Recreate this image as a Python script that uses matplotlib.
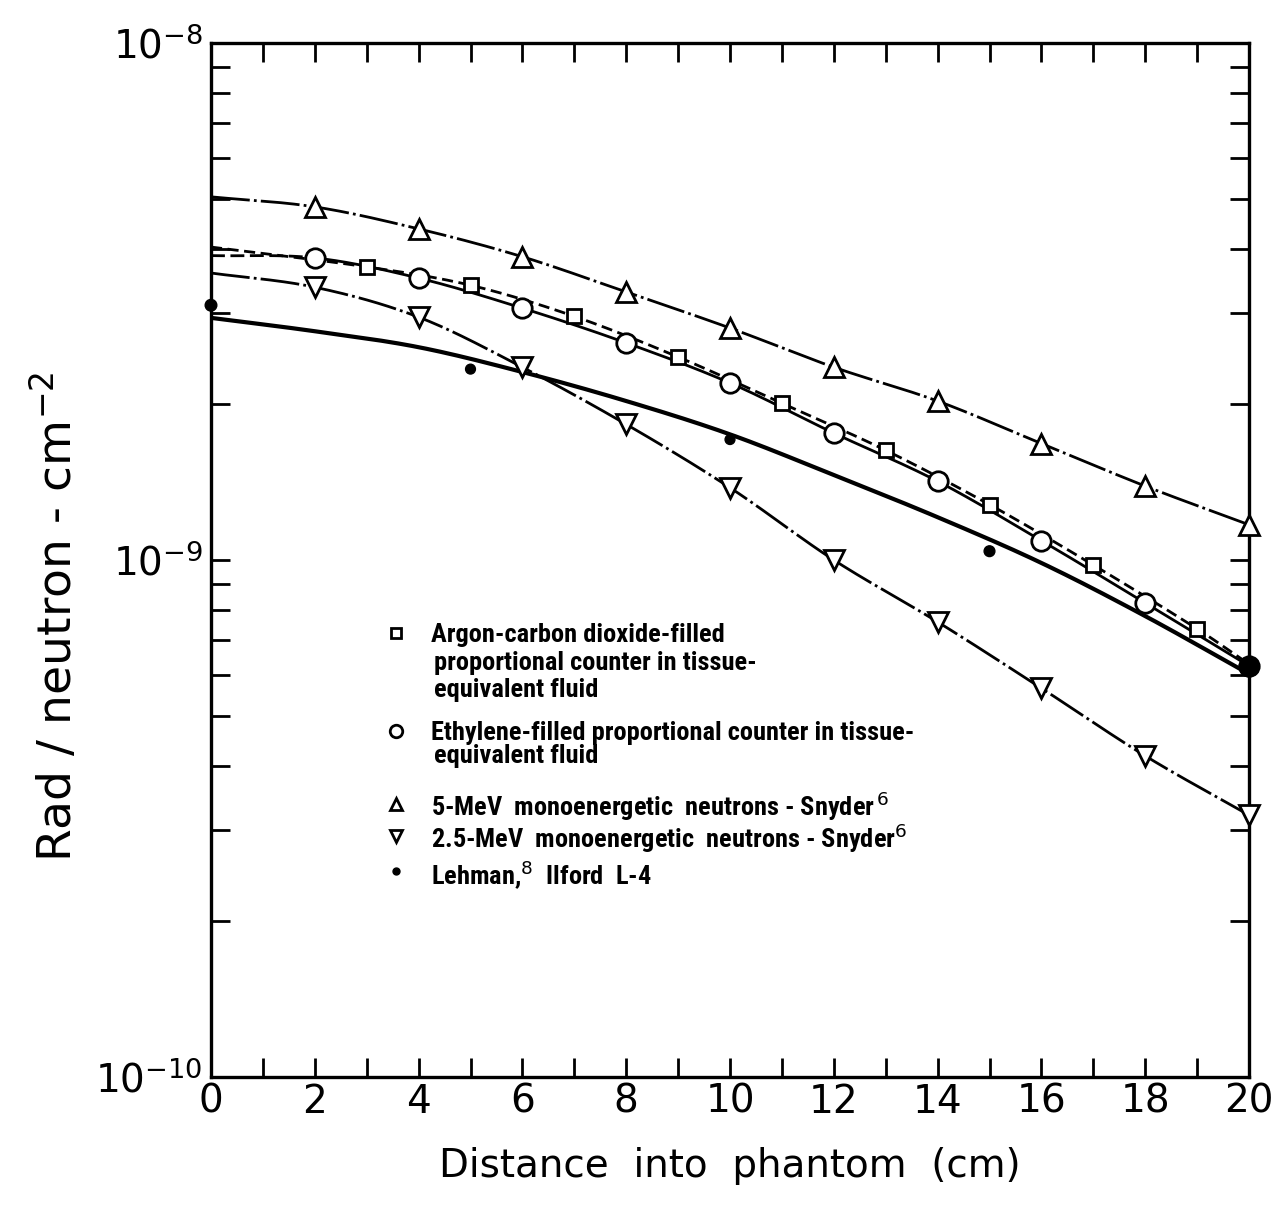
import numpy as np
import matplotlib
matplotlib.use("Agg")
import matplotlib.pyplot as plt
from matplotlib import font_manager
from matplotlib.ticker import FixedLocator, NullFormatter, MultipleLocator

# ---- data: absorbed dose per unit fluence vs. depth in phantom ----
# Argon-CO2 proportional counter (squares)
argon_x = [3, 5, 7, 9, 11, 13, 15, 17, 19]
argon_y = [3.69e-9, 3.40e-9, 2.96e-9, 2.47e-9, 2.01e-9, 1.63e-9, 1.28e-9, 9.78e-10, 7.36e-10]
argon_curve_x = [0, 3, 5, 7, 9, 11, 13, 15, 17, 19, 20]
argon_curve_y = [4.03e-9, 3.69e-9, 3.40e-9, 2.96e-9, 2.47e-9, 2.01e-9, 1.63e-9, 1.28e-9, 9.78e-10, 7.36e-10, 6.29e-10]

# Ethylene proportional counter (circles)
ethyl_x = [2, 4, 6, 8, 10, 12, 14, 16, 18, 20]
ethyl_y = [3.84e-9, 3.51e-9, 3.07e-9, 2.63e-9, 2.20e-9, 1.76e-9, 1.42e-9, 1.09e-9, 8.26e-10, 6.24e-10]
ethyl_start_y = 3.88e-9   # curve value at x = 0

# 5-MeV monoenergetic neutrons, Snyder (triangles)
mev5_x = [2, 4, 6, 8, 10, 12, 14, 16, 18, 20]
mev5_y = [4.82e-9, 4.37e-9, 3.86e-9, 3.30e-9, 2.81e-9, 2.36e-9, 2.03e-9, 1.68e-9, 1.39e-9, 1.17e-9]
mev5_start_y = 5.04e-9

# 2.5-MeV monoenergetic neutrons, Snyder (inverted triangles)
mev25_x = [2, 4, 6, 8, 10, 12, 14, 16, 18, 20]
mev25_y = [3.37e-9, 2.95e-9, 2.36e-9, 1.83e-9, 1.38e-9, 1.00e-9, 7.59e-10, 5.65e-10, 4.18e-10, 3.21e-10]
mev25_start_y = 3.59e-9

# Lehman, Ilford L-4 emulsion (dots) and its fitted curve
lehman_x = [0, 5, 10, 15, 20]
lehman_y = [3.11e-9, 2.34e-9, 1.71e-9, 1.04e-9, 6.21e-10]
lehman_curve_x = [0, 2, 4, 6, 8, 10, 12, 14, 16, 18, 20]
lehman_curve_y = [2.94e-9, 2.77e-9, 2.58e-9, 2.31e-9, 2.03e-9, 1.75e-9, 1.46e-9, 1.21e-9, 9.87e-10, 7.79e-10, 6.02e-10]

x_ticks = [0, 2, 4, 6, 8, 10, 12, 14, 16, 18, 20]
x_ticklabels = ["0", "2", "4", "6", "8", "10", "12", "14", "16", "18", "20"]
y_ticks = [1e-10, 1e-9, 1e-8]
y_ticklabels = [r"$10^{-10}$", r"$10^{-9}$", r"$10^{-8}$"]

legend_rows = [
    ("s", ["Argon-carbon dioxide-filled", "proportional counter in tissue-", "equivalent fluid"]),
    ("o", ["Ethylene-filled proportional counter in tissue-", "equivalent fluid"]),
    ("^", [r"5-MeV  monoenergetic  neutrons - Snyder$^{\,6}$"]),
    ("v", [r"2.5-MeV  monoenergetic  neutrons - Snyder$^{6}$"]),
    (".", [r"Lehman,$^{8}$  Ilford  L-4"]),
]


def pick_font(cands):
    names = {f.name for f in font_manager.fontManager.ttflist}
    for c in cands:
        if c in names:
            return c
    return "DejaVu Sans"


def smooth(xs, ys, n=300):
    """Cubic Hermite curve through the points, interpolated in log space."""
    x = np.asarray(xs, float)
    y = np.log10(np.asarray(ys, float))
    m = np.zeros_like(y)
    m[0] = (y[1] - y[0]) / (x[1] - x[0])
    m[-1] = (y[-1] - y[-2]) / (x[-1] - x[-2])
    for i in range(1, len(x) - 1):
        m[i] = (y[i + 1] - y[i - 1]) / (x[i + 1] - x[i - 1])
    xx = np.linspace(x[0], x[-1], n)
    idx = np.clip(np.searchsorted(x, xx, side="right") - 1, 0, len(x) - 2)
    h = x[idx + 1] - x[idx]
    t = (xx - x[idx]) / h
    h00 = 2 * t**3 - 3 * t**2 + 1
    h10 = t**3 - 2 * t**2 + t
    h01 = -2 * t**3 + 3 * t**2
    h11 = t**3 - t**2
    yy = h00 * y[idx] + h10 * h * m[idx] + h01 * y[idx + 1] + h11 * h * m[idx + 1]
    return xx, 10 ** yy


axis_font = pick_font(["DejaVu Sans"])
legend_font = pick_font(["Liberation Sans Narrow", "DejaVu Sans Condensed", "Roboto Condensed", "Liberation Sans"])

plt.rcParams["font.family"] = [axis_font]
plt.rcParams["mathtext.fontset"] = "dejavusans"

fig = plt.figure(figsize=(12.86, 12.26), dpi=100)
ax = fig.add_axes([211 / 1286, 1 - 1077 / 1226, 1038 / 1286, 1034 / 1226])

ax.set_yscale("log")
ax.set_xlim(0, 20)
ax.set_ylim(1e-10, 1e-8)

# fitted curves
dashdot = (0, (14, 1.5, 1, 1.5))
ax.plot(*smooth([0] + mev5_x, [mev5_start_y] + mev5_y), color="black", lw=2, linestyle=dashdot)
ax.plot(*smooth([0] + mev25_x, [mev25_start_y] + mev25_y), color="black", lw=2, linestyle=dashdot)
ex, ey = smooth([0] + ethyl_x, [ethyl_start_y] + ethyl_y, n=401)
ax.plot(ex[ex <= 2.01], ey[ex <= 2.01], color="black", lw=2, linestyle=(0, (5, 2)))
ax.plot(ex[ex >= 2], ey[ex >= 2], color="black", lw=2)
ax.plot(*smooth(argon_curve_x, argon_curve_y), color="black", lw=2, linestyle=(0, (4, 2)))
ax.plot(*smooth(lehman_curve_x, lehman_curve_y), color="black", lw=3, solid_capstyle="round")

# data points
ax.plot(mev5_x, mev5_y, "^", ms=14, mfc="white", mec="black", mew=2, clip_on=False, zorder=5)
ax.plot(mev25_x, mev25_y, "v", ms=14, mfc="white", mec="black", mew=2, clip_on=False, zorder=5)
ax.plot(ethyl_x, ethyl_y, "o", ms=14, mfc="white", mec="black", mew=2, clip_on=False, zorder=5)
ax.plot(argon_x, argon_y, "s", ms=10, mfc="white", mec="black", mew=2, clip_on=False, zorder=5)
lehman_sizes = [70, 50, 50, 60, 200]
ax.scatter(lehman_x, lehman_y, s=lehman_sizes, color="black", clip_on=False, zorder=6)

# axes styling
for sp in ax.spines.values():
    sp.set_linewidth(2.4)
ax.xaxis.set_minor_locator(MultipleLocator(1))
ax.set_xticks(x_ticks)
ax.set_xticklabels(x_ticklabels)
ax.set_yticks(y_ticks)
ax.set_yticklabels(y_ticklabels)
minor_y = [m * 10.0 ** e for e in (-10, -9) for m in range(2, 10)]
ax.yaxis.set_minor_locator(FixedLocator(minor_y))
ax.yaxis.set_minor_formatter(NullFormatter())
ax.tick_params(which="both", direction="in", top=True, right=True, length=14, width=2)
ax.tick_params(axis="x", which="major", labelsize=28, pad=4)
ax.tick_params(axis="y", which="major", labelsize=28, pad=6)

ax.set_xlabel("Distance  into  phantom  (cm)", fontsize=28)
ax.xaxis.set_label_coords(0.5, -0.068)
ax.set_ylabel(r"Rad / neutron - cm$^{-2}$", fontsize=34)
ax.yaxis.set_label_coords(-0.125, 0.445)

# legend block
row_y = [[0.427, 0.400, 0.374], [0.333, 0.310], [0.262], [0.231], [0.195]]
for (mk, lines), ys in zip(legend_rows, row_y):
    if mk == ".":
        ax.plot([0.178], [ys[0] + 0.004], "o", ms=5, color="black", transform=ax.transAxes)
    else:
        ax.plot([0.178], [ys[0] + 0.002], mk, ms=9 if mk != "s" else 7, mfc="white", mec="black",
                mew=2, transform=ax.transAxes)
    for i, (t, y) in enumerate(zip(lines, ys)):
        ax.text(0.212 if i == 0 else 0.215, y, t, transform=ax.transAxes, fontsize=19,
                fontweight="bold", family=legend_font, va="center", ha="left")

fig.savefig("out.png", dpi=100)
